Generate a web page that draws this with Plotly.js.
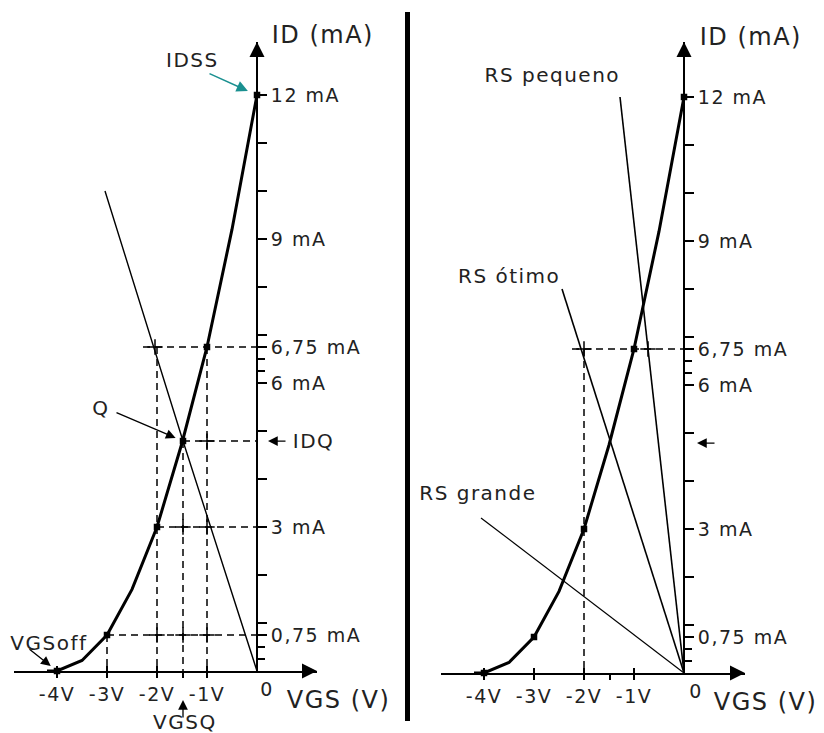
<!DOCTYPE html>
<html><head><meta charset="utf-8">
<script src="https://cdn.plot.ly/plotly-3.0.1.min.js"></script>
<style>
html,body{margin:0;padding:0;background:#fff;}
#chart{width:824px;height:733px;}
#chart text{letter-spacing:1.5px;}
#chart g.annotation[data-index="0"] .annotation-arrow-g path:first-child{stroke-dasharray:2px,1.5px;}
</style></head><body><div id="chart"></div>
<script>
// ---- data ----
const vgsCurve = [-4.2, -4, -3.5, -3, -2.5, -2, -1.5, -1, -0.5, 0];
const idCurve  = [0, 0, 0.22, 0.75, 1.7, 3, 4.75, 6.75, 9.2, 12];
const curveDotsVgs = [-4, -3, -2, -1, 0];
const curveDotsId  = [0, 0.75, 3, 6.75, 12];
const VGSQ = -1.48;
const IDQ = 4.79;
const loadLineVgs = [0, VGSQ, -3.04];
const loadLineId  = [0, IDQ, 10.0];

const xTickVals = [-4, -3, -2, -1];
const xTickText = ['-4V', '-3V', '-2V', '-1V'];
const yTickVals = [12, 11, 10, 9, 8, 7, 6.75, 6, 5, 4, 3, 2, 1, 0.75];
const yTickText = ['12 mA', '', '', '9 mA', '', '', '6,75 mA', '6 mA', '', '', '3 mA', '', '', '0,75 mA'];
const yMinorTicks = [6.5, 6.25, 0.5, 0.25];

// left panel guide lines
const hGuideY_L    = [6.75, IDQ, 3, 0.75];
const hGuideFrom_L = [-2.28, VGSQ, -2, -3];
const vGuideX_L    = [-3, -2, VGSQ, -1];
const vGuideTop_L  = [0.75, 6.75, IDQ, 6.75];
const crossVgs_L = [-2.04, -1, VGSQ, -1, -2, VGSQ, -1];
const crossId_L  = [6.75, IDQ, 3, 3, 0.75, 0.75, 0.75];

// right panel
const rsPequenoVgs = [0, -1.28], rsPequenoId = [0, 12];
const rsOtimoVgs   = [0, -2.44], rsOtimoId   = [0, 8.0];
const rsGrandeVgs  = [0, -4.06], rsGrandeId  = [0, 3.23];
const hGuideY_R    = [6.75];
const hGuideFrom_R = [-2.24];
const vGuideX_R    = [-2];
const vGuideTop_R  = [6.75];
const crossVgs_R = [-2, -0.72];
const crossId_R  = [6.75, 6.75];

// ---- helpers ----
const W = 824, H = 733;
const px = v => v / W;
const py = v => 1 - v / H;
const FONT = 'DejaVu Sans';
const TXT = '#222';

function guides(hy, hx0, vx, vtop) {
  const x = [], y = [];
  hy.forEach((yy, i) => { x.push(hx0[i], 0, null); y.push(yy, yy, null); });
  vx.forEach((xx, i) => { x.push(xx, xx, null); y.push(vtop[i], 0, null); });
  return {x, y};
}

const traces = [];
function line(x, y, xa, ya, w, dash) {
  traces.push({type: 'scatter', mode: 'lines', x, y, xaxis: xa, yaxis: ya,
    line: {color: '#000', width: w, dash: dash || 'solid'}, hoverinfo: 'skip', showlegend: false});
}
function marks(x, y, xa, ya, sym, size) {
  traces.push({type: 'scatter', mode: 'markers', x, y, xaxis: xa, yaxis: ya, cliponaxis: false,
    marker: {symbol: sym, size, color: '#000', line: {color: '#000', width: 1.5}},
    hoverinfo: 'skip', showlegend: false});
}

// left panel
const gL = guides(hGuideY_L, hGuideFrom_L, vGuideX_L, vGuideTop_L);
line(gL.x, gL.y, 'x3', 'y', 1.5, '7px,5px');
line(loadLineVgs, loadLineId, 'x', 'y', 1.4);
line(vgsCurve, idCurve, 'x', 'y', 3);
marks(crossVgs_L, crossId_L, 'x', 'y', 'cross-thin', 11);
marks(curveDotsVgs, curveDotsId, 'x', 'y', 'square', 5);
marks([VGSQ], [IDQ], 'x', 'y', 'square', 5);

// right panel
const gR = guides(hGuideY_R, hGuideFrom_R, vGuideX_R, vGuideTop_R);
line(gR.x, gR.y, 'x4', 'y2', 1.5, '7px,5px');
line(rsPequenoVgs, rsPequenoId, 'x2', 'y2', 1.6);
line(rsOtimoVgs, rsOtimoId, 'x2', 'y2', 1.6);
line(rsGrandeVgs, rsGrandeId, 'x2', 'y2', 1.2);
line(vgsCurve, idCurve, 'x2', 'y2', 3);
marks(crossVgs_R, crossId_R, 'x2', 'y2', 'cross-thin', 11);
marks(curveDotsVgs, curveDotsId, 'x2', 'y2', 'square', 5);

const tickFont = {family: FONT, size: 19, color: TXT};
function xAxis(domain, range, anchor) {
  return {domain, range, anchor, showline: true, linecolor: '#000', linewidth: 2,
    ticks: 'outside', ticklen: 5, tickwidth: 1.5, tickcolor: '#000',
    tickmode: 'array', tickvals: xTickVals, ticktext: xTickText, tickfont: tickFont,
    minor: {tickmode: 'array', tickvals: [VGSQ], ticks: 'outside', ticklen: 5, tickwidth: 1.5, tickcolor: '#000', showgrid: false},
    showgrid: false, zeroline: false, fixedrange: true};
}
function xOverlay(over, range, anchor) {
  return {overlaying: over, range, anchor, showline: false, ticks: 'inside', ticklen: 5, tickwidth: 1.5,
    tickcolor: '#000', tickmode: 'array', tickvals: xTickVals, showticklabels: false,
    showgrid: false, zeroline: false, fixedrange: true};
}
function yAxis(domain, range, pos) {
  return {domain, range, anchor: 'free', position: pos, side: 'right', showline: true,
    linecolor: '#000', linewidth: 2, ticks: 'outside', ticklen: 9, tickwidth: 1.5, tickcolor: '#000',
    tickmode: 'array', tickvals: yTickVals, ticktext: yTickText, tickfont: tickFont,
    minor: {tickmode: 'array', tickvals: yMinorTicks, ticks: 'outside', ticklen: 7, tickwidth: 1.5, tickcolor: '#000', showgrid: false},
    showgrid: false, zeroline: false, fixedrange: true};
}

const xRangeL = [-4.86, 1.2], xRangeR = [-4.86, 1.22];
const layout = {
  width: W, height: H, margin: {l: 0, r: 0, t: 0, b: 0},
  paper_bgcolor: '#fff', plot_bgcolor: 'rgba(0,0,0,0)', showlegend: false,
  font: {family: FONT, color: TXT},
  xaxis: xAxis([px(14), px(317)], xRangeL, 'y'),
  xaxis3: xOverlay('x', xRangeL, 'y'),
  yaxis: yAxis([py(671), py(42)], [0, 629 / 48], px(257)),
  xaxis2: xAxis([px(441), px(745)], xRangeR, 'y2'),
  xaxis4: xOverlay('x2', xRangeR, 'y2'),
  yaxis2: yAxis([py(673), py(42)], [0, 631 / 48], px(684)),
  shapes: [{type: 'line', xref: 'paper', yref: 'paper', x0: px(407.5), x1: px(407.5), y0: py(12), y1: py(721),
    line: {color: '#000', width: 5}}],
  annotations: []
};

const A = layout.annotations;
function arrow(xref, yref, x, y, ax, ay, standoff, color, width) {
  A.push({xref, yref, x, y, ax, ay, axref: 'pixel', ayref: 'pixel', text: '', showarrow: true,
    arrowhead: 2, arrowsize: 1.5, arrowwidth: width || 1.3, arrowcolor: color || '#000', standoff: standoff || 0});
}
function label(text, x, y, xanchor, size) {
  A.push({xref: 'paper', yref: 'paper', x: px(x), y: py(y), text, showarrow: false,
    xanchor: xanchor || 'left', yanchor: 'middle', font: {family: FONT, size: size || 20, color: TXT}});
}
function axisHead(xref, yref, x, y, ax, ay) {
  A.push({xref, yref, x, y, ax, ay, axref: 'pixel', ayref: 'pixel', text: '', showarrow: true,
    arrowhead: 2, arrowsize: 1.5, arrowwidth: 2, arrowcolor: '#000'});
}
// arrows (IDSS first -> data-index 0)
arrow('x', 'y', 0, 12, -49, -22, 10, '#1a9090', 1.5);
arrow('x', 'y', VGSQ, IDQ, -68, -29, 8);
arrow('x', 'y', 0, IDQ, 30, 0, 11);
arrow('x', 'y', -4, 0, -29, -23, 8);
arrow('x', 'y', VGSQ, 0, 0, 48, 29);
arrow('x2', 'y2', 0, IDQ, 32, 0, 13);
// axis arrowheads
axisHead('x domain', 'y', 1, 0, -16, 0);
axisHead('x', 'y domain', 0, 1, 0, 16);
axisHead('x2 domain', 'y2', 1, 0, -16, 0);
axisHead('x2', 'y2 domain', 0, 1, 0, 16);
// "0" labels at origin
A.push({xref: 'x', yref: 'y', x: 0, y: 0, xshift: 10, yshift: -18, text: '0', showarrow: false, font: {family: FONT, size: 19, color: TXT}});
A.push({xref: 'x2', yref: 'y2', x: 0, y: 0, xshift: 12, yshift: -18, text: '0', showarrow: false, font: {family: FONT, size: 19, color: TXT}});
// text labels
label('ID (mA)', 275, 35, 'left', 24);
label('IDSS', 192, 60, 'center');
label('Q', 101, 408, 'center');
label('IDQ', 293, 441, 'left');
label('VGSoff', 13, 643, 'left');
label('VGS (V)', 290, 700, 'left', 24);
label('VGSQ', 185, 722, 'center');
label('ID (mA)', 703, 37, 'left', 24);
label('RS pequeno', 490, 75, 'left');
label('RS ótimo', 462, 276, 'left');
label('RS grande', 424, 493, 'left');
label('VGS (V)', 717, 702, 'left', 24);

Plotly.newPlot('chart', traces, layout, {displayModeBar: false, staticPlot: true});
</script></body></html>
